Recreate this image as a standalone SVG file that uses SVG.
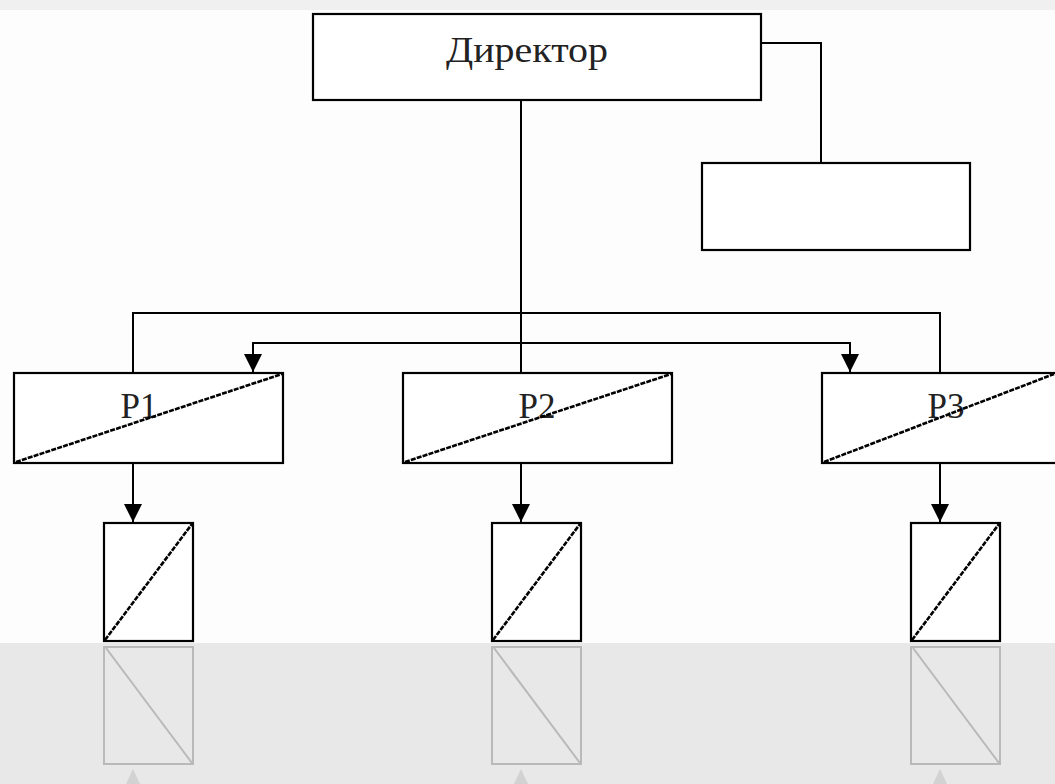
<svg xmlns="http://www.w3.org/2000/svg" width="1055" height="784" viewBox="0 0 1055 784">
<defs>
<style>
.box{fill:#ffffff;stroke:#000;stroke-width:2.2}
.diag{stroke:#000;stroke-width:2.6;stroke-dasharray:5 1.2;fill:none}
.ln{stroke:#000;stroke-width:2;fill:none}
.lbl{font-family:"Liberation Serif","DejaVu Serif",serif;fill:#222;text-anchor:middle}
.refl{fill:none;stroke:#b4b4b4;stroke-width:2}
</style>
<marker id="ah" markerWidth="20" markerHeight="20" refX="10" refY="19" orient="0" markerUnits="userSpaceOnUse">
<path d="M1,1 L19,1 L10,19 Z" fill="#000"/>
</marker>
</defs>
<rect x="0" y="0" width="1055" height="784" fill="#fdfdfd"/>
<rect x="0" y="0" width="1055" height="10" fill="#f0f0f0"/>
<rect x="0" y="643" width="1055" height="141" fill="#e8e8e8"/>

<g id="connectors">
<path class="ln" d="M521,100 V373"/>
<path class="ln" d="M761,43 H821 V163"/>
<path class="ln" d="M133,373 V313 H940 V373"/>
<path class="ln" d="M253,372 V343 H850 V372" marker-start="url(#ah)" marker-end="url(#ah)"/>
<path class="ln" d="M133,463 V522" marker-end="url(#ah)"/>
<path class="ln" d="M521,463 V522" marker-end="url(#ah)"/>
<path class="ln" d="M940,463 V522" marker-end="url(#ah)"/>
</g>

<g id="director">
<rect class="box" x="313" y="14" width="448" height="86"/>
<text class="lbl" x="527" y="62" font-size="36" textLength="162" lengthAdjust="spacingAndGlyphs">Директор</text>
</g>
<g id="side-box">
<rect class="box" x="702" y="163" width="268" height="87"/>
</g>

<g id="p1">
<rect class="box" x="14" y="373" width="269" height="90"/>
<text class="lbl" x="139" y="418" font-size="35">P1</text>
<line class="diag" x1="16" y1="462" x2="282" y2="374"/>
</g>
<g id="p2">
<rect class="box" x="403" y="373" width="269" height="90"/>
<text class="lbl" x="537" y="418" font-size="35">P2</text>
<line class="diag" x1="405" y1="462" x2="671" y2="374"/>
</g>
<g id="p3">
<rect class="box" x="822" y="373" width="240" height="90"/>
<text class="lbl" x="946" y="418" font-size="35">P3</text>
<line class="diag" x1="824" y1="462" x2="1054" y2="374"/>
</g>

<g id="s1">
<rect class="box" x="104" y="523" width="89" height="118"/>
<line class="diag" x1="105" y1="640" x2="192" y2="524" stroke-dasharray="3 1"/>
</g>
<g id="s2">
<rect class="box" x="492" y="523" width="89" height="118"/>
<line class="diag" x1="493" y1="640" x2="580" y2="524" stroke-dasharray="3 1"/>
</g>
<g id="s3">
<rect class="box" x="911" y="523" width="89" height="118"/>
<line class="diag" x1="912" y1="640" x2="999" y2="524" stroke-dasharray="3 1"/>
</g>

<g id="reflection" opacity="0.9">
<rect class="refl" x="104" y="647" width="89" height="117"/>
<line class="refl" x1="106" y1="648" x2="192" y2="763"/>
<path d="M126,784 L133,769 L140,784 Z" fill="#d0d0d0"/>
<rect class="refl" x="492" y="647" width="89" height="117"/>
<line class="refl" x1="494" y1="648" x2="580" y2="763"/>
<path d="M514,784 L521,769 L528,784 Z" fill="#d0d0d0"/>
<rect class="refl" x="911" y="647" width="89" height="117"/>
<line class="refl" x1="913" y1="648" x2="999" y2="763"/>
<path d="M933,784 L940,769 L947,784 Z" fill="#d0d0d0"/>
</g>
</svg>
